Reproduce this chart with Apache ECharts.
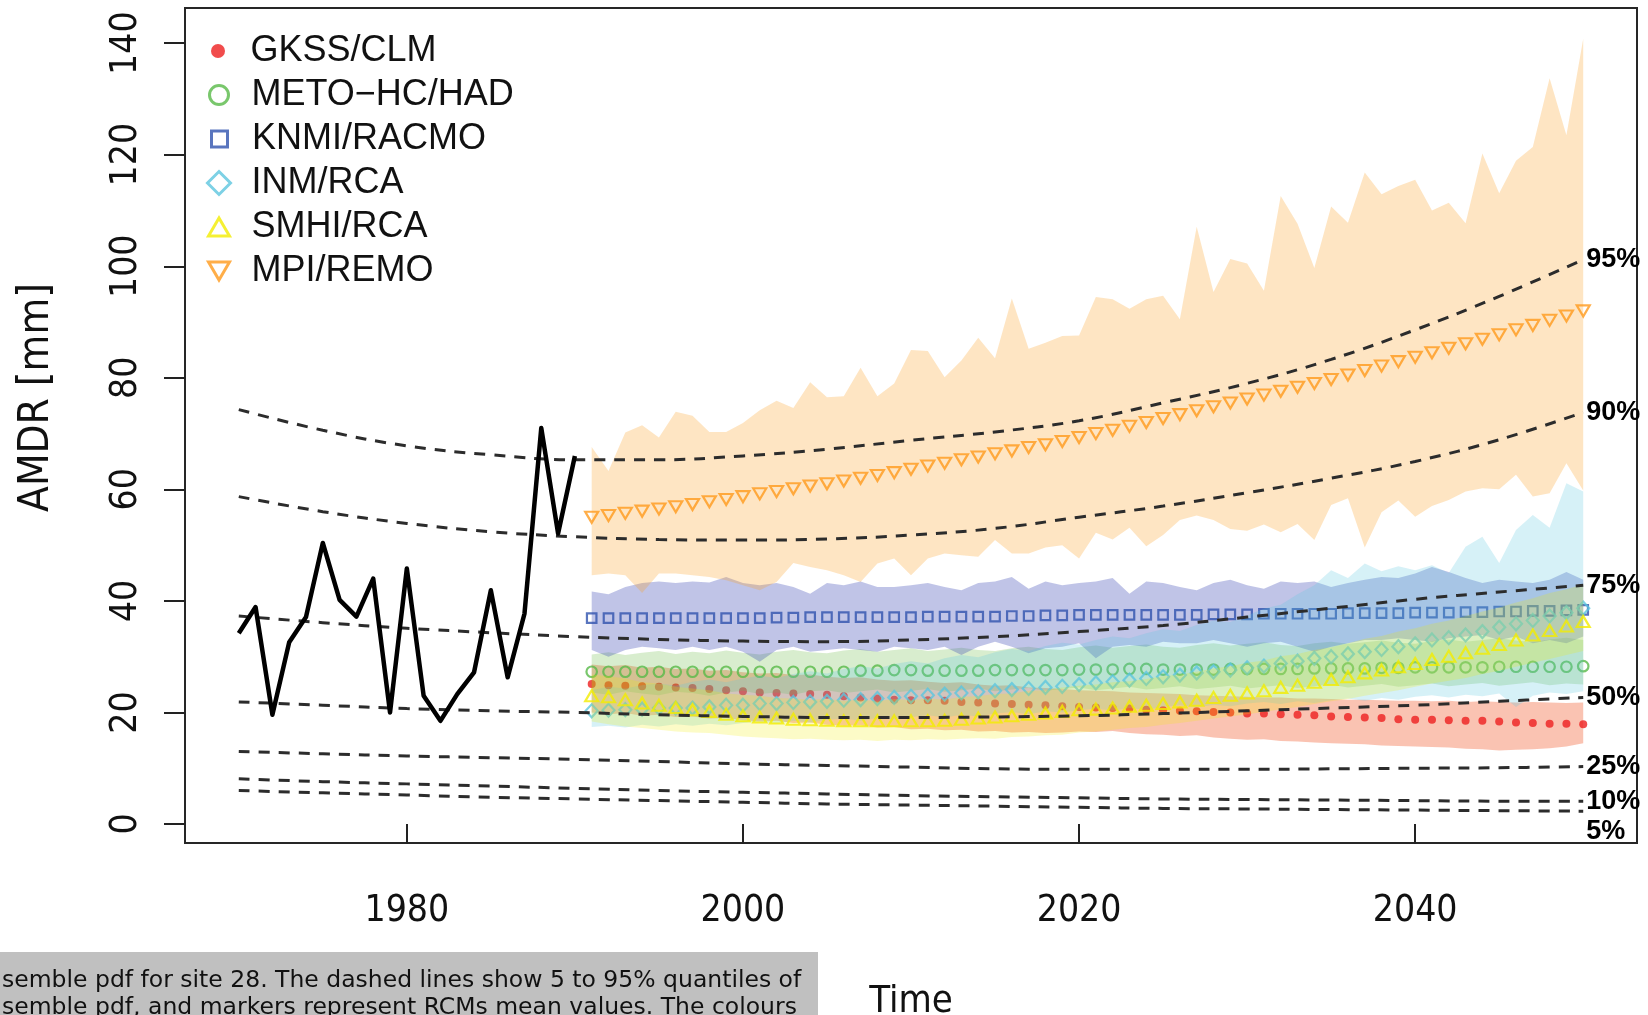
<!DOCTYPE html>
<html>
<head>
<meta charset="utf-8">
<title>AMDR ensemble</title>
<script src="https://cdn.jsdelivr.net/npm/echarts@6/dist/echarts.min.js"></script>
<style>
  html, body { margin: 0; padding: 0; background: #ffffff; }
  #chart { width: 1648px; height: 1015px; }
</style>
</head>
<body>
<div id="chart"></div>
<script>
// ---- observed annual maxima, 1970-1990 ----
const obsYears = [1970, 1971, 1972, 1973, 1974, 1975, 1976, 1977, 1978, 1979,
  1980, 1981, 1982, 1983, 1984, 1985, 1986, 1987, 1988, 1989, 1990];
const obsValues = [34.2, 38.9, 19.6, 32.6, 37.1, 50.4, 40.2, 37.2, 44.0, 20.0,
  45.8, 23.0, 18.5, 23.3, 27.2, 41.9, 26.3, 37.7, 71.0, 52.1, 66.0];

// ---- ensemble pdf quantiles ----
const quantYears = [1970, 1975, 1980, 1985, 1990, 1995, 2000, 2005, 2010,
  2015, 2020, 2025, 2030, 2035, 2040, 2045, 2050];
const q95 = [74.3, 70.6, 67.8, 66.2, 65.3, 65.3, 66.0, 67.2, 68.8, 70.3, 72.3, 75.5, 79.0, 83.3, 88.6, 94.6, 101.2];
const q90 = [58.7, 56.0, 53.9, 52.4, 51.5, 51.0, 50.9, 51.1, 51.8, 53.0, 55.0, 57.0, 59.4, 62.0, 65.0, 68.9, 73.8];
const q75 = [37.3, 36.1, 35.1, 34.3, 33.6, 33.1, 32.8, 32.7, 33.0, 33.6, 34.5, 35.6, 37.1, 38.7, 40.3, 41.6, 42.8];
const q50 = [21.9, 21.3, 20.7, 20.3, 20.0, 19.6, 19.3, 19.1, 19.1, 19.2, 19.4, 19.8, 20.3, 20.8, 21.3, 22.0, 22.7];
const q25 = [13.0, 12.6, 12.2, 11.9, 11.6, 11.2, 10.8, 10.5, 10.2, 9.9, 9.8, 9.8, 9.8, 9.9, 10.0, 10.1, 10.3];
const q10 = [8.1, 7.6, 7.2, 6.8, 6.4, 6.0, 5.7, 5.4, 5.1, 4.9, 4.7, 4.5, 4.4, 4.3, 4.2, 4.1, 4.1];
const q05 = [6.0, 5.6, 5.2, 4.8, 4.5, 4.2, 3.9, 3.6, 3.4, 3.2, 3.0, 2.8, 2.7, 2.6, 2.5, 2.4, 2.3];
const quantLabels = ['95%', '90%', '75%', '50%', '25%', '10%', '5%'];

// ---- RCM projections, 1991-2050 ----
const projYears = [1991, 1992, 1993, 1994, 1995, 1996, 1997, 1998, 1999, 2000,
  2001, 2002, 2003, 2004, 2005, 2006, 2007, 2008, 2009, 2010,
  2011, 2012, 2013, 2014, 2015, 2016, 2017, 2018, 2019, 2020,
  2021, 2022, 2023, 2024, 2025, 2026, 2027, 2028, 2029, 2030,
  2031, 2032, 2033, 2034, 2035, 2036, 2037, 2038, 2039, 2040,
  2041, 2042, 2043, 2044, 2045, 2046, 2047, 2048, 2049, 2050];

const gkssMean = [25.1, 24.9, 24.8, 24.7, 24.6, 24.5, 24.4, 24.2, 24.0, 23.8,
  23.6, 23.5, 23.4, 23.3, 23.2, 22.9, 22.7, 22.5, 22.3, 22.2,
  22.2, 22.1, 21.9, 21.8, 21.6, 21.5, 21.4, 21.3, 21.1, 21.0,
  20.9, 20.8, 20.7, 20.5, 20.4, 20.3, 20.2, 20.1, 20.0, 19.8,
  19.8, 19.7, 19.6, 19.5, 19.3, 19.2, 19.1, 19.0, 18.8, 18.7,
  18.7, 18.6, 18.5, 18.5, 18.4, 18.2, 18.1, 18.0, 18.0, 17.9];
const gkssUpper = [28.6, 28.3, 28.5, 28.0, 28.2, 27.8, 27.9, 27.5, 27.6, 27.2,
  27.0, 27.1, 26.7, 26.8, 26.4, 26.2, 26.3, 25.9, 25.7, 25.8,
  25.5, 25.3, 25.4, 25.0, 24.8, 24.9, 24.5, 24.4, 24.2, 24.0,
  23.9, 23.8, 23.6, 23.5, 23.4, 23.3, 23.1, 23.0, 22.9, 22.8,
  22.7, 22.7, 22.5, 22.5, 22.4, 22.3, 22.3, 22.2, 22.1, 22.1,
  22.0, 22.1, 21.9, 22.0, 21.9, 21.8, 21.9, 21.8, 21.7, 21.8];
const gkssLower = [20.0, 19.7, 19.9, 19.4, 19.6, 19.2, 19.3, 18.9, 19.0, 18.6,
  18.4, 18.5, 18.1, 18.2, 17.8, 17.6, 17.7, 17.3, 17.4, 17.0,
  17.1, 16.8, 16.9, 16.6, 16.7, 16.4, 16.5, 16.3, 16.4, 16.6,
  16.5, 16.7, 16.3, 16.1, 16.0, 15.8, 15.9, 15.5, 15.3, 15.1,
  15.2, 14.9, 14.8, 14.6, 14.5, 14.4, 14.3, 14.1, 14.0, 13.9,
  13.8, 13.7, 13.5, 13.4, 13.2, 13.3, 13.4, 13.6, 13.9, 14.5];

const metoMean = [27.3, 27.3, 27.3, 27.3, 27.3, 27.3, 27.3, 27.3, 27.3, 27.3,
  27.3, 27.3, 27.3, 27.3, 27.3, 27.3, 27.5, 27.5, 27.6, 27.6,
  27.5, 27.5, 27.5, 27.5, 27.6, 27.6, 27.6, 27.6, 27.6, 27.7,
  27.7, 27.7, 27.8, 27.8, 27.7, 27.7, 27.7, 27.7, 27.8, 27.8,
  27.8, 27.8, 27.8, 27.9, 27.9, 27.9, 27.9, 28.0, 28.0, 28.1,
  28.1, 28.1, 28.1, 28.1, 28.2, 28.2, 28.2, 28.2, 28.2, 28.3];
const metoUpper = [30.4, 30.8, 30.3, 30.7, 31.0, 30.5, 30.9, 30.6, 31.1, 30.7,
  30.4, 30.9, 31.2, 30.8, 30.6, 31.1, 31.4, 30.9, 31.2, 31.5,
  31.0, 31.3, 31.6, 31.2, 31.0, 31.5, 31.8, 31.4, 31.2, 31.7,
  32.0, 31.6, 31.9, 32.2, 31.8, 31.6, 32.1, 32.4, 32.0, 32.3,
  32.6, 32.1, 31.9, 32.4, 32.7, 32.3, 32.6, 32.9, 32.5, 32.3,
  32.8, 33.1, 32.7, 33.0, 33.3, 32.9, 32.6, 33.1, 33.4, 33.0];
const metoLower = [23.6, 23.2, 23.8, 23.4, 23.1, 23.7, 23.5, 23.0, 23.6, 23.9,
  23.3, 23.6, 23.2, 23.8, 24.0, 23.5, 23.8, 24.1, 23.6, 23.9,
  24.2, 23.7, 24.0, 24.3, 23.8, 24.1, 24.4, 23.9, 24.2, 24.5,
  24.0, 24.3, 24.6, 24.1, 24.4, 24.7, 24.2, 24.5, 24.8, 24.3,
  24.6, 24.9, 24.4, 24.7, 25.0, 24.5, 24.8, 25.1, 24.6, 24.9,
  25.2, 24.7, 25.0, 25.3, 24.8, 25.1, 25.4, 24.9, 25.2, 25.0];

const knmiMean = [36.9, 36.9, 36.9, 36.9, 36.9, 36.9, 36.9, 36.9, 36.9, 36.9,
  36.9, 37.0, 37.0, 37.1, 37.1, 37.1, 37.1, 37.1, 37.1, 37.1,
  37.2, 37.2, 37.2, 37.2, 37.2, 37.3, 37.3, 37.4, 37.4, 37.5,
  37.5, 37.5, 37.5, 37.5, 37.5, 37.5, 37.5, 37.6, 37.6, 37.6,
  37.7, 37.7, 37.7, 37.7, 37.7, 37.8, 37.8, 37.8, 37.8, 37.9,
  37.9, 37.9, 38.0, 38.0, 38.1, 38.1, 38.2, 38.2, 38.3, 38.4];
const knmiUpper = [41.7, 41.2, 42.5, 43.2, 43.5, 43.2, 43.5, 43.3, 44.3, 43.2,
  42.8, 43.2, 42.5, 41.3, 43.2, 42.8, 43.5, 42.5, 42.5, 42.8,
  43.2, 42.5, 41.9, 43.2, 43.5, 44.3, 42.2, 43.5, 42.8, 43.2,
  43.5, 44.1, 41.3, 43.5, 43.2, 42.5, 41.9, 43.2, 43.8, 42.8,
  42.2, 43.5, 43.2, 43.5, 42.5, 43.2, 43.8, 44.3, 44.1, 44.9,
  46.1, 45.2, 44.1, 43.2, 43.8, 43.5, 43.2, 43.8, 45.2, 43.8];
const knmiLower = [31.2, 30.0, 31.2, 31.8, 31.5, 31.2, 31.8, 31.2, 31.8, 30.9,
  29.1, 31.2, 31.8, 30.9, 31.2, 31.5, 31.2, 30.9, 31.8, 31.5,
  31.2, 31.8, 30.3, 31.8, 32.7, 31.8, 30.6, 31.5, 31.8, 32.4,
  29.7, 31.8, 32.1, 31.8, 32.7, 32.4, 32.4, 33.0, 32.4, 31.8,
  32.4, 32.7, 31.8, 30.9, 31.8, 32.4, 33.0, 33.0, 33.3, 33.0,
  32.7, 33.3, 33.6, 33.9, 33.0, 33.6, 32.4, 33.0, 32.4, 33.6];

const inmMean = [20.3, 20.4, 20.5, 20.6, 20.8, 20.8, 20.8, 21.0, 21.3, 21.3,
  21.6, 21.6, 21.8, 21.9, 22.0, 22.2, 22.3, 22.5, 22.7, 22.9,
  23.1, 23.3, 23.5, 23.7, 23.9, 24.1, 24.3, 24.5, 24.7, 25.0,
  25.3, 25.5, 25.8, 26.1, 26.4, 26.7, 27.1, 27.3, 27.6, 28.0,
  28.3, 28.8, 29.2, 29.7, 30.0, 30.5, 30.9, 31.3, 31.8, 32.3,
  33.0, 33.4, 33.9, 34.5, 35.3, 35.9, 36.5, 37.3, 37.9, 38.7];
const inmUpper = [24.0, 24.6, 24.3, 24.9, 25.2, 24.8, 25.5, 25.9, 25.4, 26.1,
  26.6, 26.2, 26.9, 27.4, 27.0, 27.8, 28.3, 27.9, 28.7, 29.2,
  28.8, 29.7, 30.3, 29.9, 30.8, 31.4, 31.0, 31.9, 32.5, 32.2,
  33.0, 33.6, 33.3, 34.2, 34.9, 34.6, 35.7, 36.5, 36.2, 37.4,
  38.6, 39.3, 41.2, 42.8, 45.5, 44.1, 46.7, 45.3, 46.2, 45.5,
  46.4, 45.0, 49.7, 51.5, 46.8, 52.7, 55.4, 53.1, 61.1, 59.6];
const inmLower = [17.4, 17.6, 17.3, 17.8, 17.5, 17.9, 17.6, 18.0, 17.7, 18.1,
  18.4, 18.0, 18.5, 18.2, 18.7, 18.9, 18.5, 19.0, 18.8, 19.2,
  19.5, 19.1, 19.6, 19.3, 19.8, 20.1, 19.7, 20.2, 20.0, 20.4,
  20.7, 20.3, 20.8, 20.5, 21.0, 21.3, 20.9, 21.4, 21.1, 21.6,
  21.9, 21.5, 22.0, 21.7, 22.2, 22.5, 22.1, 22.6, 22.3, 22.8,
  23.1, 22.7, 23.2, 22.9, 23.4, 21.0, 23.0, 23.6, 23.3, 23.8];

const smhiMean = [23.0, 22.8, 22.3, 21.7, 21.3, 20.9, 20.5, 20.2, 19.7, 19.4,
  19.2, 19.0, 18.8, 18.7, 18.6, 18.5, 18.5, 18.5, 18.5, 18.5,
  18.5, 18.6, 18.8, 19.0, 19.2, 19.4, 19.7, 19.9, 20.2, 20.5,
  20.6, 20.8, 21.1, 21.3, 21.6, 21.9, 22.2, 22.7, 23.1, 23.5,
  23.9, 24.5, 24.9, 25.4, 25.9, 26.4, 27.1, 27.6, 28.2, 28.8,
  29.5, 30.1, 30.7, 31.5, 32.2, 33.0, 33.9, 34.7, 35.5, 36.3];
const smhiUpper = [26.8, 26.5, 26.1, 25.4, 25.2, 24.6, 24.3, 24.0, 23.4, 23.2,
  23.0, 22.6, 22.5, 22.3, 22.4, 22.1, 22.3, 22.0, 22.4, 22.2,
  22.5, 22.3, 22.8, 22.9, 23.3, 23.4, 23.9, 24.0, 24.5, 24.8,
  25.0, 25.4, 25.6, 26.0, 26.5, 26.8, 27.3, 27.9, 28.3, 28.9,
  29.3, 30.1, 30.5, 31.2, 31.7, 32.4, 33.2, 33.7, 34.5, 35.1,
  35.9, 36.5, 37.3, 38.1, 38.8, 39.7, 40.5, 41.4, 42.1, 43.0];
const smhiLower = [18.4, 17.9, 17.5, 17.2, 16.9, 16.6, 16.4, 16.3, 16.0, 15.7,
  15.5, 15.4, 15.2, 15.3, 15.1, 15.0, 15.1, 14.9, 15.1, 15.0,
  15.2, 15.1, 15.3, 15.4, 15.3, 15.6, 15.7, 15.9, 16.0, 16.4,
  16.6, 16.9, 17.2, 17.4, 17.8, 18.1, 18.5, 18.9, 19.3, 19.7,
  20.1, 20.6, 21.0, 21.5, 22.0, 22.4, 23.0, 23.5, 24.0, 24.6,
  25.2, 25.7, 26.2, 26.9, 27.5, 28.2, 28.9, 29.6, 30.3, 31.0];

const mpiMean = [55.0, 55.3, 55.7, 56.1, 56.5, 56.9, 57.3, 57.8, 58.2, 58.7,
  59.2, 59.6, 60.1, 60.6, 61.0, 61.5, 62.0, 62.5, 63.0, 63.6,
  64.2, 64.7, 65.3, 65.8, 66.4, 66.9, 67.5, 68.0, 68.6, 69.3,
  70.0, 70.6, 71.3, 72.0, 72.7, 73.4, 74.1, 74.8, 75.5, 76.2,
  76.9, 77.6, 78.3, 79.0, 79.7, 80.5, 81.3, 82.1, 82.9, 83.7,
  84.5, 85.3, 86.1, 86.9, 87.7, 88.6, 89.4, 90.3, 91.1, 92.0];
const mpiUpper = [67.6, 63.3, 70.2, 71.5, 69.3, 73.9, 73.2, 70.3, 70.3, 71.9,
  74.2, 75.9, 74.6, 79.2, 76.5, 76.7, 81.8, 76.7, 79.0, 85.0,
  84.8, 80.1, 83.1, 87.2, 83.5, 94.2, 85.2, 86.3, 87.5, 87.6,
  94.5, 94.1, 92.4, 94.1, 94.7, 90.5, 107.1, 95.4, 101.3, 100.5,
  95.6, 112.6, 107.6, 99.7, 110.7, 107.8, 116.8, 112.9, 114.4, 115.5,
  110.0, 111.4, 107.7, 120.2, 113.1, 118.9, 121.4, 133.7, 123.5, 140.8];
const mpiLower = [44.6, 44.9, 44.6, 41.4, 44.9, 44.9, 44.6, 44.3, 43.7, 42.8,
  41.9, 43.4, 46.8, 46.1, 45.5, 44.6, 43.4, 46.7, 47.6, 44.6,
  47.6, 48.5, 48.2, 47.9, 50.9, 48.5, 48.5, 49.6, 50.0, 47.6,
  52.2, 51.0, 53.1, 49.8, 51.8, 54.5, 55.3, 54.5, 52.9, 52.6,
  53.7, 52.3, 53.8, 50.9, 57.2, 58.4, 49.6, 55.9, 58.0, 55.1,
  57.0, 58.1, 59.6, 60.2, 60.0, 62.6, 58.7, 59.3, 64.7, 59.8];

const xTicks = [1980, 2000, 2020, 2040];
const yTicks = [0, 20, 40, 60, 80, 100, 120, 140];

// ---- styling ----
const SANS = '"Liberation Sans", Arial, Helvetica, sans-serif';
const NARROW = '"Liberation Sans Narrow", "Arial Narrow", "DejaVu Sans Condensed", "Liberation Sans", sans-serif';
const CAPTION_FONT = '"DejaVu Sans", "Noto Sans", sans-serif';

const models = [
  { name: 'GKSS/CLM',       mean: gkssMean, lower: gkssLower, upper: gkssUpper,
    color: '#ee1f1f', band: 'rgba(240,80,30,0.34)', symbol: 'circle', size: 8, hollow: false,
    icon: 'circle', iconSize: 14 },
  { name: 'METO\u2212HC/HAD', mean: metoMean, lower: metoLower, upper: metoUpper,
    color: '#58b947', band: 'rgba(100,185,60,0.25)', symbol: 'circle', size: 10.5, hollow: true,
    icon: 'circle', iconSize: 19 },
  { name: 'KNMI/RACMO',     mean: knmiMean, lower: knmiLower, upper: knmiUpper,
    color: '#2f52ae', band: 'rgba(60,70,180,0.32)', symbol: 'rect', size: 9.5, hollow: true,
    icon: 'rect', iconSize: 16 },
  { name: 'INM/RCA',        mean: inmMean, lower: inmLower, upper: inmUpper,
    color: '#5cc6de', band: 'rgba(90,200,225,0.25)', symbol: 'diamond', size: [12, 13], hollow: true,
    icon: 'diamond', iconSize: 23 },
  { name: 'SMHI/RCA',       mean: smhiMean, lower: smhiLower, upper: smhiUpper,
    color: '#f2ec00', band: 'rgba(240,235,0,0.22)', symbol: 'triangle', size: [13, 11], hollow: true,
    icon: 'path://M10,0L20,17.3L0,17.3Z', iconSize: 21 },
  { name: 'MPI/REMO',       mean: mpiMean, lower: mpiLower, upper: mpiUpper,
    color: '#ff9a1c', band: 'rgba(250,160,40,0.28)', symbol: 'triangle', size: [13, 11], hollow: true,
    rotate: 180, icon: 'path://M0,0L20,0L10,17.3Z', iconSize: 21 }
];

const pairs = (xs, ys) => xs.map((x, i) => [x, ys[i]]);

// translucent envelope of one model, drawn as a polygon through the axes
function bandSeries(m, z) {
  return {
    type: 'custom',
    name: m.name + ' range',
    z: z,
    silent: true,
    data: [[projYears[0], m.lower[0]]],
    renderItem: function (params, api) {
      const pts = [];
      for (let i = 0; i < projYears.length; i++) pts.push(api.coord([projYears[i], m.upper[i]]));
      for (let i = projYears.length - 1; i >= 0; i--) pts.push(api.coord([projYears[i], m.lower[i]]));
      return { type: 'polygon', shape: { points: pts }, style: { fill: m.band } };
    }
  };
}

function markerSeries(m, z) {
  return {
    type: 'scatter',
    name: m.name,
    z: z,
    silent: true,
    symbol: m.symbol,
    symbolSize: m.size,
    symbolRotate: m.rotate || 0,
    itemStyle: m.hollow
      ? { color: 'rgba(0,0,0,0)', borderColor: m.color, borderWidth: 2.2 }
      : { color: m.color, borderWidth: 0 },
    data: pairs(projYears, m.mean)
  };
}

const quantSets = [q95, q90, q75, q50, q25, q10, q05];
const quantSeries = quantSets.map((q, k) => ({
  type: 'line',
  name: 'q' + quantLabels[k],
  z: 20,
  silent: true,
  smooth: 0.4,
  showSymbol: false,
  symbol: 'none',
  lineStyle: { color: '#2c2c2c', width: 3, type: [11, 9] },
  data: pairs(quantYears, q),
  endLabel: {
    show: true,
    formatter: quantLabels[k],
    distance: 3,
    offset: k === 6 ? [0, 20] : [0, 0],
    fontFamily: SANS,
    fontWeight: 'bold',
    fontSize: 27,
    color: '#000'
  }
}));

const series = [];
models.forEach((m, i) => {
  series.push(bandSeries(m, 2 + i * 2));
  series.push(markerSeries(m, 3 + i * 2));
});
quantSeries.forEach(s => series.push(s));
series.push({
  type: 'line',
  name: 'observed',
  z: 22,
  silent: true,
  showSymbol: false,
  symbol: 'none',
  lineStyle: { color: '#000', width: 4.5, join: 'round' },
  data: pairs(obsYears, obsValues)
});

// one legend block per model so each key symbol keeps its own size
const legendRowsY = [51, 95, 139, 183, 227, 271];
const KEY_X = 217.6;   // centre of the key symbols
const TEXT_X = 250;    // start of the key texts
const legends = models.map((m, i) => ({
  orient: 'vertical',
  left: Math.round(KEY_X - m.iconSize / 2),
  top: legendRowsY[i] - 20,
  padding: 0,
  selectedMode: false,
  itemWidth: m.iconSize,
  itemHeight: m.iconSize,
  symbolKeepAspect: true,
  textStyle: {
    fontFamily: SANS, fontSize: 36, color: '#111', lineHeight: 40,
    padding: [0, 0, 0, Math.max(0, TEXT_X - (KEY_X + m.iconSize / 2 + 5))]
  },
  data: [{
    name: m.name,
    icon: m.icon,
    itemStyle: m.hollow
      ? { color: 'rgba(0,0,0,0)', borderColor: m.color, borderWidth: 3 }
      : { color: m.color, borderWidth: 0 }
  }]
}));

const chart = echarts.init(document.getElementById('chart'), null, { renderer: 'canvas' });
chart.setOption({
  animation: false,
  backgroundColor: '#ffffff',
  legend: legends,
  grid: {
    left: 185, right: 11, top: 8, bottom: 172,
    outerBoundsMode: 'none',
    containLabel: false,
    show: true, borderColor: '#262626', borderWidth: 2, backgroundColor: 'rgba(0,0,0,0)'
  },
  xAxis: {
    type: 'value',
    min: 1966.8, max: 2053.2,
    splitLine: { show: false },
    axisLine: { show: false },
    axisTick: { show: true, length: 20, customValues: xTicks, lineStyle: { color: '#222', width: 2 } },
    axisLabel: { customValues: xTicks, formatter: v => String(v),
                 fontFamily: NARROW, fontSize: 37, color: '#111', margin: 50 },
    name: 'Time',
    nameLocation: 'middle',
    nameGap: 140,
    nameTextStyle: { fontFamily: NARROW, fontSize: 38, color: '#111' }
  },
  yAxis: {
    type: 'value',
    min: -3.4, max: 146.3,
    splitLine: { show: false },
    axisLine: { show: false },
    axisTick: { show: true, length: 21, customValues: yTicks, lineStyle: { color: '#222', width: 2 } },
    axisLabel: { customValues: yTicks, formatter: v => String(v), rotate: 90,
                 fontFamily: NARROW, fontSize: 37, color: '#111', margin: 40 },
    name: 'AMDR [mm]',
    nameLocation: 'middle',
    nameRotate: 90,
    nameGap: 127,
    nameTextStyle: { fontFamily: NARROW, fontSize: 42, color: '#111', padding: [0, 0, 0, 56] }
  },
  graphic: [
    { type: 'rect', left: 0, top: 952, z: 50, shape: { width: 818, height: 63 }, style: { fill: '#c0c0c0' } },
    { type: 'text', left: 2, top: 969, z: 51,
      style: { text: 'semble pdf for site 28. The dashed lines show 5 to 95% quantiles of',
               font: '23.5px ' + CAPTION_FONT, fill: '#111' } },
    { type: 'text', left: 2, top: 996, z: 51,
      style: { text: 'semble pdf, and markers represent RCMs mean values. The colours',
               font: '23.5px ' + CAPTION_FONT, fill: '#111' } }
  ],
  series: series
});
</script>
</body>
</html>
